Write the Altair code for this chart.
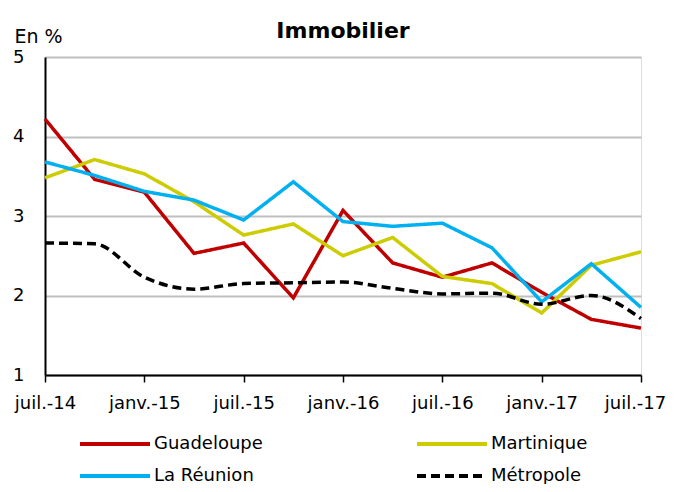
import altair as alt
import pandas as pd

periods = ["2014-07", "2014-10", "2015-01", "2015-04", "2015-07", "2015-10", "2016-01",
           "2016-04", "2016-07", "2016-10", "2017-01", "2017-04", "2017-07"]
tick_labels = ["juil.-14", "janv.-15", "juil.-15", "janv.-16", "juil.-16", "janv.-17", "juil.-17"]

series_names = ["Guadeloupe", "Martinique", "La Réunion", "Métropole"]
series_colors = ["#C00000", "#CCCC00", "#00B0F0", "#000000"]

guadeloupe = [4.22, 3.46, 3.30, 2.53, 2.66, 1.97, 3.07, 2.41, 2.23, 2.41, 2.04, 1.70, 1.59]
martinique = [3.48, 3.71, 3.53, 3.18, 2.76, 2.90, 2.50, 2.73, 2.24, 2.15, 1.78, 2.38, 2.55]
reunion = [3.68, 3.51, 3.31, 3.20, 2.95, 3.43, 2.93, 2.87, 2.91, 2.60, 1.92, 2.40, 1.85]
metropole = [2.66, 2.65, 2.23, 2.08, 2.15, 2.16, 2.17, 2.09, 2.02, 2.03, 1.89, 2.00, 1.71]

values = {"Guadeloupe": guadeloupe, "Martinique": martinique,
          "La Réunion": reunion, "Métropole": metropole}

rows = []
for name in series_names:
    for i, (p, v) in enumerate(zip(periods, values[name])):
        rows.append({"serie": name, "periode": p, "idx": i, "valeur": v})
df = pd.DataFrame(rows)

FONT = "DejaVu Sans"
label_js = "[" + ",".join('"%s"' % t for t in tick_labels) + "]"

x_enc = alt.X("idx:Q", scale=alt.Scale(domain=[0, 12], nice=False, zero=False),
              axis=alt.Axis(values=[0, 2, 4, 6, 8, 10, 12], title=None,
                            labelExpr=label_js + "[round(datum.value/2)]",
                            grid=False, domainColor="black", domainWidth=2,
                            tickColor="black", tickWidth=1.5, tickSize=7,
                            labelPadding=12, labelFontSize=18, labelFont=FONT,
                            labelColor="black", labelFlush=False,
                            labelOffset={"condition": {"test": "datum.value == 12", "value": -6},
                                         "value": 0}))
y_enc = alt.Y("valeur:Q", scale=alt.Scale(domain=[1, 5], nice=False, zero=False),
              axis=alt.Axis(values=[1, 2, 3, 4, 5], title="En %", titleAngle=0,
                            titleX=-31, titleY=-15, titleAlign="left",
                            titleBaseline="alphabetic", titleFontWeight="normal",
                            titleFontSize=19, titleFont=FONT, titleColor="black",
                            grid=True, gridColor="#BFBFBF", gridWidth=2,
                            ticks=False, domainColor="black", domainWidth=2,
                            labelPadding=21, labelFontSize=18, labelFont=FONT,
                            labelColor="black"))
color_enc = alt.Color("serie:N", scale=alt.Scale(domain=series_names, range=series_colors),
                      legend=alt.Legend(title=None, orient="none", legendX=58, legendY=375,
                                        direction="horizontal",
                                        columns=2, columnPadding=146, rowPadding=11,
                                        symbolType="M-3.5,0H3.5", symbolSize=400,
                                        symbolStrokeWidth=4, labelOffset=27,
                                        labelFontSize=18, labelFont=FONT,
                                        labelColor="black", padding=0))
dash_enc = alt.StrokeDash("serie:N",
                          scale=alt.Scale(domain=series_names,
                                          range=[[1, 0], [1, 0], [1, 0], [9, 5]]),
                          legend=None)

layers = []
for name in series_names:
    interp = "monotone" if name == "Métropole" else "linear"
    layers.append(
        alt.Chart(df).transform_filter(alt.datum.serie == name)
        .mark_line(strokeWidth=3.5, interpolate=interp)
        .encode(x=x_enc, y=y_enc, color=color_enc, strokeDash=dash_enc)
    )

chart = alt.layer(*layers).properties(
    width=596, height=318,
    title=alt.TitleParams("Immobilier", fontSize=22, fontWeight="bold", font=FONT,
                          anchor="middle", color="black", offset=-33,
                          baseline="alphabetic"),
    autosize=alt.AutoSizeParams(type="none"),
    padding={"left": 37, "top": 49, "right": 25, "bottom": 109},
).configure_view(stroke=None).configure(background="white")

chart.save("out.html", embed_options={"renderer": "svg", "actions": False})
